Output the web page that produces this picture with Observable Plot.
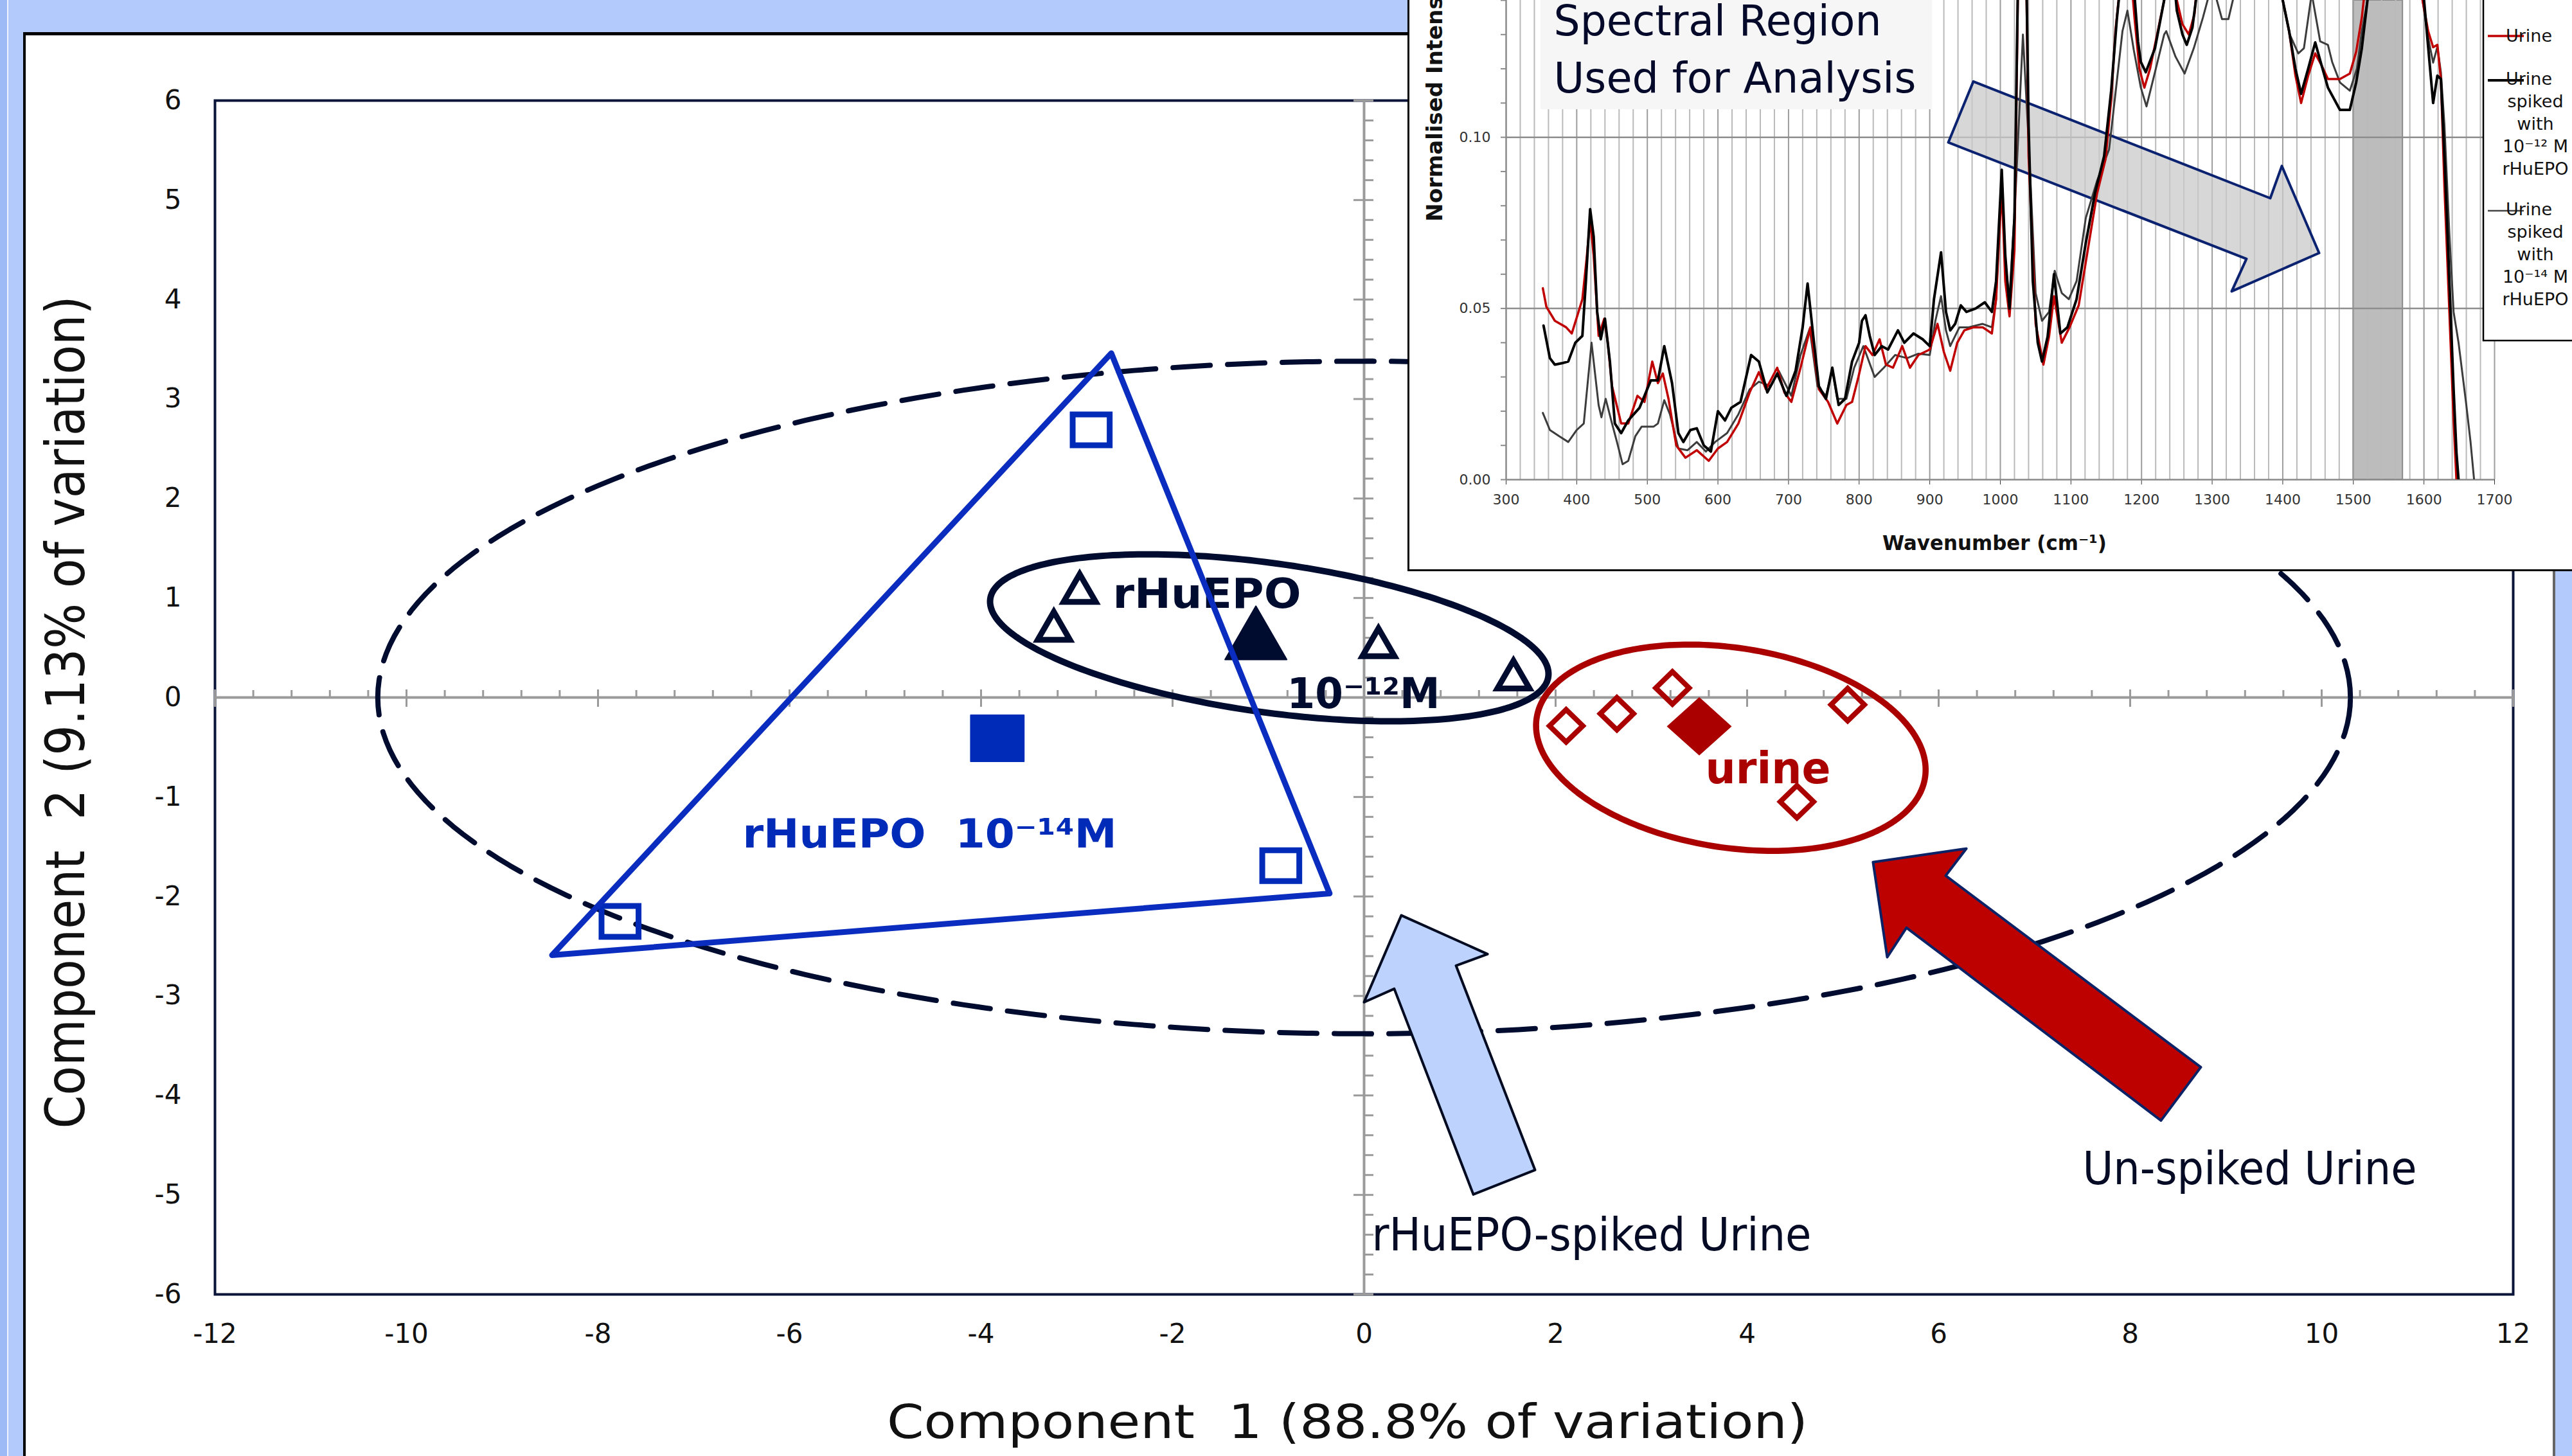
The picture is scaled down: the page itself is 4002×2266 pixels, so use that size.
<!DOCTYPE html>
<html><head><meta charset="utf-8">
<script src="https://cdn.jsdelivr.net/npm/d3@7"></script>
<script src="https://cdn.jsdelivr.net/npm/@observablehq/plot@0.6"></script>
<style>
html,body{margin:0;padding:0;}
body{width:4002px;height:2266px;overflow:hidden;position:relative;background:#b3cbfc;font-family:"DejaVu Sans",sans-serif;}
#stripe{position:absolute;left:0;top:0;width:11px;height:2266px;background:#9dbaf6;border-right:2px solid #eef3ff;}
#panel{position:absolute;left:36px;top:50px;width:3932px;height:2300px;background:#fff;border-top:5px solid #000;border-left:4px solid #000;border-right:4px solid #666;}
#main{position:absolute;left:0;top:0;}
#insetBox{position:absolute;left:2190px;top:-10px;width:1830px;height:896px;background:#fff;border-left:3px solid #000;border-bottom:3px solid #000;}
#inset{position:absolute;left:2191px;top:0;}
svg{max-width:none !important;}
</style></head>
<body>
<div id="stripe"></div>
<div id="panel"></div>
<div id="main"></div>
<div id="insetBox"></div>
<div id="inset"></div>
<script>
// ---------------- main PCA score plot data ----------------
const xTicks = [-12,-10,-8,-6,-4,-2,0,2,4,6,8,10,12];
const yTicks = [-6,-5,-4,-3,-2,-1,0,1,2,3,4,5,6];

// rHuEPO 10^-14 M (open squares) and its mean (filled square)
const epo14X = [-2.85, -7.77, -0.87];
const epo14Y = [2.69, -2.25, -1.69];
const epo14MeanX = [-3.83];
const epo14MeanY = [-0.41];
// rHuEPO 10^-12 M (open triangles) and mean
const epo12X = [-2.97, -3.24, 0.15, 1.56];
const epo12Y = [1.10, 0.72, 0.555, 0.23];
const epo12MeanX = [-1.13];
const epo12MeanY = [0.65];
// un-spiked urine (open diamonds) and mean
const urineX = [2.11, 2.64, 3.22, 5.05, 4.52];
const urineY = [-0.285, -0.163, 0.096, -0.072, -1.048];
const urineMeanX = [3.50];
const urineMeanY = [-0.29];

// group outline (triangle) vertices
const hullX = [-2.64, -0.36, -8.48];
const hullY = [3.46, -1.97, -2.59];
// arrow annotations (vertices)
const blueArrowX = [0.389, 1.289, 0.960, 1.785, 1.141, 0.315, 0.0];
const blueArrowY = [-2.190, -2.579, -2.695, -4.749, -4.995, -2.928, -3.063];
const redArrowX = [6.289, 5.315, 5.463, 5.664, 8.322, 8.738, 6.074];
const redArrowY = [-1.519, -1.655, -2.611, -2.314, -4.252, -3.716, -1.791];

// ---------------- inset spectra data ----------------
const urineWN = [352,357,369,385,393,401,408,414,419,424,431,439,444,450,463,473,486,496,507,515,522,530,541,554,570,587,600,613,629,645,658,668,684,694,704,717,731,743,756,769,782,790,799,809,819,829,838,848,861,872,884,900,911,920,929,939,949,962,975,988,994,1002,1007,1013,1020,1026,1031,1036,1040,1050,1061,1069,1076,1087,1098,1111,1124,1137,1149,1157,1163,1170,1180,1190,1197,1204,1212,1222,1232,1242,1250,1258,1267,1275,1285,1320,1360,1395,1409,1418,1426,1436,1446,1455,1464,1481,1495,1504,1512,1520,1550,1590,1598,1606,1613,1619,1624,1629,1636,1642,1646];
const urineI = [0.0559,0.0505,0.0464,0.0445,0.0427,0.048,0.0527,0.0645,0.076,0.0655,0.042,0.047,0.040,0.0273,0.0164,0.0164,0.0245,0.0227,0.0345,0.0282,0.031,0.0236,0.010,0.0064,0.0086,0.0055,0.0091,0.011,0.0164,0.0255,0.0314,0.0264,0.0327,0.0255,0.0227,0.0327,0.0445,0.0264,0.0227,0.0164,0.0218,0.0227,0.030,0.039,0.0364,0.041,0.0336,0.0327,0.039,0.0327,0.0364,0.038,0.0455,0.0373,0.0318,0.040,0.0436,0.0445,0.0445,0.0427,0.0527,0.0855,0.058,0.0477,0.067,0.16,0.20,0.16,0.0945,0.0455,0.0336,0.0418,0.0536,0.040,0.0445,0.0509,0.0673,0.0836,0.0936,0.111,0.131,0.145,0.16,0.135,0.12,0.1145,0.12,0.13,0.14,0.16,0.14,0.133,0.130,0.136,0.16,0.19,0.19,0.145,0.131,0.118,0.110,0.118,0.1245,0.121,0.117,0.117,0.1186,0.125,0.135,0.15,0.20,0.17,0.14,0.131,0.1263,0.127,0.117,0.0855,0.049,0.0173,0.0];
const spike12WN = [353,362,369,379,388,398,408,413,419,424,429,434,440,447,454,463,473,489,505,515,524,535,544,551,561,570,580,590,600,610,619,632,647,658,670,684,697,710,720,727,735,743,753,762,771,780,790,800,804,809,815,822,832,841,855,864,877,890,900,906,916,923,929,936,944,952,965,978,988,994,1002,1007,1013,1020,1026,1031,1036,1040,1046,1053,1059,1067,1076,1085,1095,1108,1121,1134,1147,1157,1165,1175,1185,1195,1199,1206,1219,1232,1242,1250,1258,1264,1272,1277,1285,1320,1360,1395,1409,1418,1426,1436,1446,1455,1464,1481,1495,1504,1512,1520,1550,1590,1598,1606,1613,1619,1624,1629,1636,1642,1646,1649];
const spike12I = [0.045,0.0355,0.0336,0.034,0.0345,0.040,0.042,0.058,0.079,0.071,0.049,0.041,0.047,0.0345,0.0164,0.0136,0.0173,0.021,0.029,0.029,0.039,0.0282,0.0136,0.011,0.0145,0.015,0.010,0.0082,0.020,0.0173,0.021,0.0227,0.0364,0.0345,0.0255,0.031,0.0245,0.0318,0.0445,0.0573,0.042,0.0273,0.0236,0.0327,0.0218,0.0236,0.0345,0.040,0.0464,0.048,0.042,0.0364,0.039,0.038,0.0436,0.040,0.0427,0.041,0.039,0.0527,0.0664,0.049,0.0436,0.0455,0.0509,0.049,0.050,0.0518,0.049,0.058,0.0905,0.0655,0.050,0.0764,0.16,0.21,0.16,0.1036,0.058,0.040,0.0345,0.0418,0.060,0.0427,0.0445,0.0527,0.0691,0.0836,0.0945,0.1136,0.1345,0.155,0.155,0.128,0.122,0.119,0.126,0.14,0.155,0.137,0.13,0.127,0.132,0.14,0.16,0.19,0.19,0.145,0.131,0.12,0.1127,0.12,0.1277,0.121,0.1145,0.108,0.108,0.116,0.126,0.14,0.20,0.17,0.145,0.1263,0.110,0.118,0.117,0.0945,0.058,0.0264,0.008,0.0];
const spike14WN = [352,362,375,388,400,410,421,431,435,441,450,457,465,473,483,492,509,515,524,532,544,557,570,583,596,613,629,645,658,675,686,704,717,730,741,753,762,769,782,793,806,822,835,851,868,884,900,908,916,923,929,942,955,975,988,994,1002,1007,1013,1022,1032,1040,1050,1059,1069,1077,1087,1097,1108,1121,1137,1154,1163,1173,1180,1189,1199,1207,1219,1232,1235,1248,1261,1274,1287,1300,1314,1323,1335,1370,1400,1410,1422,1430,1441,1453,1464,1470,1481,1495,1505,1512,1520,1550,1590,1598,1606,1613,1619,1624,1629,1636,1642,1649,1660,1666,1671];
const spike14I = [0.0195,0.0145,0.0127,0.011,0.0145,0.0164,0.040,0.0218,0.0182,0.0236,0.0164,0.011,0.0045,0.0055,0.0127,0.0155,0.0155,0.0164,0.0232,0.0191,0.0091,0.0086,0.011,0.0082,0.011,0.0136,0.0191,0.0264,0.0286,0.0273,0.0318,0.0245,0.0364,0.0441,0.0273,0.0245,0.0318,0.0236,0.0236,0.0327,0.039,0.030,0.0327,0.0364,0.0355,0.0368,0.0364,0.0464,0.0536,0.0436,0.039,0.0445,0.0445,0.0455,0.0445,0.0527,0.089,0.0627,0.0527,0.0855,0.130,0.099,0.0545,0.0464,0.049,0.061,0.0545,0.0527,0.058,0.0764,0.0873,0.0964,0.1127,0.131,0.137,0.1255,0.1145,0.109,0.119,0.13,0.131,0.1236,0.1186,0.126,0.135,0.145,0.1345,0.1345,0.145,0.17,0.14,0.13,0.1245,0.126,0.142,0.128,0.127,0.122,0.116,0.1136,0.12,0.131,0.14,0.19,0.17,0.14,0.129,0.1218,0.1264,0.119,0.1036,0.0718,0.049,0.04,0.0218,0.011,0.0];
const wnTicks = [300,400,500,600,700,800,900,1000,1100,1200,1300,1400,1500,1600,1700];
const intTicks = [0, 0.05, 0.10];
const analysisBand = [1500, 1570];
const grayArrowWN = [961.8, 1382.3, 1398.7, 1451.5, 1327.7, 1348.6, 926.3];
const grayArrowI = [0.1163, 0.0822, 0.0916, 0.0662, 0.055, 0.0645, 0.0985];

// ---------------- helpers ----------------
const zip = (xs, ys) => xs.slice(0, Math.min(xs.length, ys.length)).map((x, i) => ({x, y: ys[i]}));
function ellipse(cx, cy, a, b, deg) {
  const t = deg * Math.PI / 180;
  return d3.range(0, 360.01, 1.5).map(u => {
    u = u * Math.PI / 180;
    const ex = a * Math.cos(u), ey = b * Math.sin(u);
    return {x: cx + ex * Math.cos(t) - ey * Math.sin(t), y: cy + ex * Math.sin(t) + ey * Math.cos(t)};
  });
}
const rr = size => Math.sqrt(size / Math.PI);
const rectSym = k => ({draw(c, s) { const r = rr(s); c.rect(-k * r, -r, 2 * k * r, 2 * r); }});
const triSym = {draw(c, s) { const r = rr(s); c.moveTo(0, -0.866 * r); c.lineTo(r, 0.866 * r); c.lineTo(-r, 0.866 * r); c.closePath(); }};
const diaSym = k => ({draw(c, s) { const r = rr(s); c.moveTo(0, -k * r); c.lineTo(r, 0); c.lineTo(0, k * r); c.lineTo(-r, 0); c.closePath(); }});

const NAVY = "#000b30", BLUE = "#002ab8", RED = "#aa0000", AX = "#9a9a9a";
const minorX = d3.range(-12, 12.001, 0.4).map(v => +v.toFixed(1)).filter(v => Math.abs(v / 2 - Math.round(v / 2)) > 1e-6);
const minorY = d3.range(-6, 6.001, 0.2).map(v => +v.toFixed(1)).filter(v => Math.abs(v - Math.round(v)) > 1e-6);

const labels = [
  {x: -2.624, y: 0.903, text: "rHuEPO", fill: NAVY, size: 64},
  {x: -0.805, y: -0.105, text: "10⁻¹²M", fill: NAVY, size: 66},
  {x: 3.564, y: -0.860, text: "urine", fill: RED, size: 68},
  {x: -6.49, y: -1.506, text: "rHuEPO  10⁻¹⁴M", fill: BLUE, size: 63}
];
const notes = [
  {x: 0.08, y: -5.557, text: "rHuEPO-spiked Urine", size: 71},
  {x: 7.503, y: -4.891, text: "Un-spiked Urine", size: 72}
];
const textLengths = new Map([
  ["rHuEPO", 293], ["10⁻¹²M", 238], ["urine", 195], ["rHuEPO  10⁻¹⁴M", 582],
  ["rHuEPO-spiked Urine", 684], ["Un-spiked Urine", 520],
  ["Component  1 (88.8% of variation)", 1433], ["Component  2 (9.13% of variation)", 1296]
]);

const main = Plot.plot({
  width: 4002, height: 2266,
  marginLeft: 334, marginRight: 92, marginTop: 156, marginBottom: 252,
  style: {background: "transparent", fontFamily: "DejaVu Sans, sans-serif", fontSize: "42px", color: "#111", maxWidth: "none"},
  x: {domain: [-12, 12], ticks: xTicks, tickFormat: d => String(d), tickSize: 0, tickPadding: 46, label: null},
  y: {domain: [-6, 6], ticks: yTicks, tickFormat: d => String(d), tickSize: 0, tickPadding: 52, label: null},
  marks: [
    Plot.frame({stroke: "#0a1338", strokeWidth: 4}),
    Plot.ruleY([0], {stroke: AX, strokeWidth: 4}),
    Plot.ruleX([0], {stroke: AX, strokeWidth: 4}),
    Plot.ruleX(minorX, {x: d => d, y1: 0, y2: 0, insetTop: -11, stroke: AX, strokeWidth: 3}),
    Plot.ruleX(xTicks, {x: d => d, y1: 0, y2: 0, insetTop: -12, insetBottom: -15, stroke: AX, strokeWidth: 3}),
    Plot.ruleY(minorY, {y: d => d, x1: 0, x2: 0, insetRight: -15, stroke: AX, strokeWidth: 3}),
    Plot.ruleY(yTicks, {y: d => d, x1: 0, x2: 0, insetLeft: -16, insetRight: -15, stroke: AX, strokeWidth: 3}),
    // group ellipses
    Plot.line(ellipse(0, 0, 10.3, 3.38, 0), {x: "x", y: "y", stroke: NAVY, strokeWidth: 8, strokeDasharray: "58,27"}),
    Plot.line(ellipse(-0.99, 0.60, 2.94, 0.75, -7.6), {x: "x", y: "y", stroke: NAVY, strokeWidth: 10}),
    Plot.line(ellipse(3.83, -0.505, 2.05, 1.005, -8.2), {x: "x", y: "y", stroke: RED, strokeWidth: 9.5}),
    // scores
    Plot.dot(zip(epo14X, epo14Y), {x: "x", y: "y", symbol: rectSym(1.2), r: 24, stroke: BLUE, strokeWidth: 9, fill: "none"}),
    Plot.dot(zip(epo14MeanX, epo14MeanY), {x: "x", y: "y", symbol: rectSym(1.15), r: 36, fill: BLUE, stroke: BLUE, strokeWidth: 2, strokeLinejoin: "round"}),
    Plot.dot(zip(epo12X, epo12Y), {x: "x", y: "y", symbol: triSym, r: 25, stroke: NAVY, strokeWidth: 9, fill: "none"}),
    Plot.dot(zip(epo12MeanX, epo12MeanY), {x: "x", y: "y", symbol: triSym, r: 48, fill: NAVY, stroke: NAVY, strokeWidth: 2, strokeLinejoin: "round"}),
    Plot.dot(zip(urineX, urineY), {x: "x", y: "y", symbol: diaSym(0.97), r: 26, stroke: RED, strokeWidth: 8, fill: "none"}),
    Plot.dot(zip(urineMeanX, urineMeanY), {x: "x", y: "y", symbol: diaSym(0.9), r: 49, fill: RED, stroke: RED, strokeWidth: 2}),
    // labels
    Plot.text(labels, {x: "x", y: "y", text: "text", fill: "fill", fontSize: d => d.size, fontWeight: "bold", textAnchor: "start", lineAnchor: "bottom"}),
    Plot.text(notes, {x: "x", y: "y", text: "text", fill: "#050a25", fontSize: d => d.size, textAnchor: "start", lineAnchor: "bottom"}),
    // arrows
    Plot.line(zip(blueArrowX, blueArrowY), {x: "x", y: "y", curve: "linear-closed", fill: "#bdd3fe", stroke: "#000a20", strokeWidth: 4}),
    Plot.line(zip(redArrowX, redArrowY), {x: "x", y: "y", curve: "linear-closed", fill: "#bd0000", stroke: "#0b2266", strokeWidth: 4}),
    // group outline triangle
    Plot.line(zip(hullX, hullY), {x: "x", y: "y", curve: "linear-closed", stroke: "#0a2dbf", strokeWidth: 9, fill: "none", strokeLinejoin: "round"}),
    // axis titles
    Plot.text(["Component  1 (88.8% of variation)"], {text: d => d, frameAnchor: "bottom", textAnchor: "middle", dx: -26, dy: 223, lineAnchor: "bottom", fontSize: 73, fill: "#111"}),
    Plot.text(["Component  2 (9.13% of variation)"], {text: d => d, frameAnchor: "left", textAnchor: "middle", rotate: -90, dx: -204, dy: 23, lineAnchor: "bottom", fontSize: 84, fill: "#111"})
  ]
});
d3.select(main).selectAll("text").each(function() {
  const L = textLengths.get(this.textContent);
  if (L) d3.select(this).attr("textLength", L).attr("lengthAdjust", "spacingAndGlyphs");
});
document.getElementById("main").appendChild(main);

// ---------------- inset ----------------
const gridWN = d3.range(320, 1701, 20);
const insetLengths = new Map([["Spectral Region", 510], ["Used for Analysis", 564], ["Wavenumber (cm⁻¹)", 349]]);
const inset = Plot.plot({
  width: 1811, height: 889,
  marginLeft: 152, marginRight: 121, marginTop: 0, marginBottom: 143,
  style: {background: "transparent", fontFamily: "DejaVu Sans, sans-serif", fontSize: "22px", color: "#333", maxWidth: "none"},
  x: {domain: [300, 1700], ticks: wnTicks, tickFormat: d => String(d), tickSize: 8, tickPadding: 15, label: null},
  y: {domain: [0, 0.14], ticks: intTicks, tickFormat: d => d.toFixed(2), tickSize: 0, tickPadding: 24, label: null},
  marks: [
    Plot.rect([analysisBand], {x1: d => d[0], x2: d => d[1], y1: 0, y2: 0.14, fill: "#bcbcbc", stroke: "#8a8a8a", strokeWidth: 2}),
    Plot.ruleX(gridWN, {x: d => d, stroke: d => d % 100 === 0 ? "#9c9c9c" : "#bababa", strokeWidth: 2}),
    Plot.ruleY([0.05, 0.10], {y: d => d, stroke: "#8e8e8e", strokeWidth: 2.5}),
    Plot.ruleX([300], {x: d => d, stroke: "#8a8a8a", strokeWidth: 2.5}),
    Plot.ruleY([0], {y: d => d, stroke: "#8a8a8a", strokeWidth: 2.5}),
    Plot.ruleY(d3.range(0, 0.1401, 0.01), {y: d => d, x1: 300, x2: 300, insetLeft: -8, stroke: "#8a8a8a", strokeWidth: 2}),
    Plot.rect([[349, 903.5]], {x1: d => d[0], x2: d => d[1], y1: 0.1081, y2: 0.16, fill: "#f6f6f6"}),
    Plot.text(["Spectral Region", "Used for Analysis"], {text: d => d, x: 367.4, y: (d, i) => i === 0 ? 0.1298 : 0.1131, textAnchor: "start", lineAnchor: "bottom", fontSize: 66, fill: "#050a2a"}),
    Plot.line(zip(grayArrowWN, grayArrowI), {x: "x", y: "y", curve: "linear-closed", fill: "#cacaca", fillOpacity: 0.75, stroke: "#0b2270", strokeWidth: 4}),
    Plot.line(zip(spike14WN, spike14I), {x: "x", y: "y", stroke: "#3c3c3c", strokeWidth: 3, clip: true}),
    Plot.line(zip(urineWN, urineI), {x: "x", y: "y", stroke: "#c00000", strokeWidth: 3.5, clip: true}),
    Plot.line(zip(spike12WN, spike12I), {x: "x", y: "y", stroke: "#000", strokeWidth: 4, clip: true}),
    Plot.text(["Normalised Intensity"], {text: d => d, x: 209, y: 0.0754, rotate: -90, textAnchor: "start", lineAnchor: "bottom", fontSize: 34, fontWeight: "bold", fill: "#111"}),
    Plot.text(["Wavenumber (cm⁻¹)"], {text: d => d, frameAnchor: "bottom", textAnchor: "middle", dx: -9, dy: 109, lineAnchor: "bottom", fontSize: 32, fontWeight: "bold", fill: "#111"})
  ]
});
d3.select(inset).selectAll("text").each(function() {
  const L = insetLengths.get(this.textContent);
  if (L) d3.select(this).attr("textLength", L).attr("lengthAdjust", "spacingAndGlyphs");
});
// legend box
const lg = d3.select(inset).append("g").attr("font-family", "DejaVu Sans, sans-serif").attr("font-size", 27).attr("fill", "#111");
lg.append("rect").attr("x", 1673).attr("y", -5).attr("width", 200).attr("height", 535).attr("fill", "#fff").attr("stroke", "#000").attr("stroke-width", 2.5);
const legendItems = [
  {color: "#c00000", w: 3.5, ly: 56, lines: ["Urine"], y0: 65},
  {color: "#000", w: 4, ly: 125, lines: ["Urine", "spiked", "with", "10⁻¹² M", "rHuEPO"], y0: 132},
  {color: "#444", w: 2.5, ly: 328, lines: ["Urine", "spiked", "with", "10⁻¹⁴ M", "rHuEPO"], y0: 335}
];
for (const it of legendItems) {
  lg.append("line").attr("x1", 1680).attr("x2", 1736).attr("y1", it.ly).attr("y2", it.ly).attr("stroke", it.color).attr("stroke-width", it.w);
  it.lines.forEach((t, i) => {
    if (i === 0) lg.append("text").attr("x", 1744).attr("y", it.y0).text(t);
    else lg.append("text").attr("x", 1754).attr("y", it.y0 + i * 35).attr("text-anchor", "middle").text(t);
  });
}
document.getElementById("inset").appendChild(inset);
</script>
</body></html>
